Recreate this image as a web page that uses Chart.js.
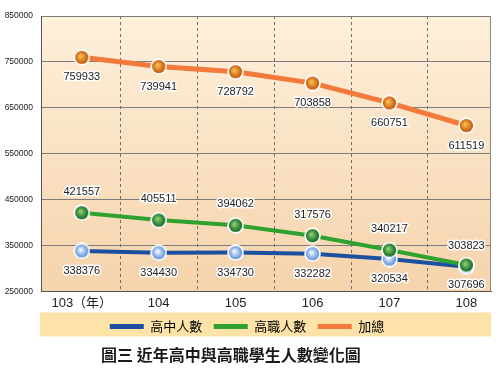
<!DOCTYPE html>
<html>
<head>
<meta charset="utf-8">
<script src="https://cdn.jsdelivr.net/npm/chart.js@4/dist/chart.umd.min.js"></script>
<style>
  body { margin: 0; background: #fff; }
  #wrap { position: relative; width: 500px; height: 368px; }
  #chart { position: absolute; left: 0; top: 0; }
  #caption {
    position: absolute; left: 101px; top: 344px;
    font: bold 16px "Noto Sans CJK TC", sans-serif; line-height: 20px; color: #1a1a1a;
    white-space: nowrap;
  }
</style>
</head>
<body>
<div id="wrap">
  <canvas id="chart" width="500" height="343"></canvas>
  <div id="caption">圖三 近年高中與高職學生人數變化圖</div>
</div>
<script>
// ===== data =====
const years = [103, 104, 105, 106, 107, 108];
const yearLabels = ['103（年）', '104', '105', '106', '107', '108'];
const yTicks = [250000, 350000, 450000, 550000, 650000, 750000, 850000];

const seniorHigh = [338376, 334430, 334730, 332282, 320534, 303823];   // 高中人數
const vocational = [421557, 405511, 394062, 371576, 340217, 307696];   // 高職人數 (106 point sits near 372k)
const vocationalText = ['421557', '405511', '394062', '317576', '340217', '307696'];
const total = [759933, 739941, 728792, 703858, 660751, 611519];        // 加總

const colors = {
  blue: '#1B4FA0',
  green: '#2FA12F',
  orange: '#F47A3C',
  band: '#FDE3A7',
  bgTop: '#FEF0DA',
  bgBottom: '#F5D3AC'
};

// shiny ball markers
function makeBall(light, dark) {
  const c = document.createElement('canvas');
  c.width = 17; c.height = 17;
  const g = c.getContext('2d');
  g.fillStyle = '#fff';
  g.beginPath(); g.arc(8.5, 8.5, 8.3, 0, Math.PI * 2); g.fill();
  const grad = g.createRadialGradient(7, 7, 0.5, 8.5, 8.5, 6.8);
  grad.addColorStop(0, light);
  grad.addColorStop(1, dark);
  g.fillStyle = grad;
  g.beginPath(); g.arc(8.5, 8.5, 6.6, 0, Math.PI * 2); g.fill();
  return c;
}

const toXY = (arr) => arr.map((v, i) => ({ x: years[i], y: v }));

// which labels go above the point (others go below)
const labelAbove = {
  0: [false, false, false, false, false, true],
  1: [true, true, true, true, true, false],
  2: [false, false, false, false, false, false]
};

const backdrop = {
  id: 'backdrop',
  beforeDraw(chart) {
    const { ctx, chartArea: a, legend } = chart;
    ctx.save();
    const grad = ctx.createLinearGradient(0, a.top, 0, a.bottom);
    grad.addColorStop(0, colors.bgTop);
    grad.addColorStop(1, colors.bgBottom);
    ctx.fillStyle = grad;
    ctx.fillRect(a.left, a.top, a.right - a.left, a.bottom - a.top);
    // legend band
    const pad = legend.options.labels.padding;
    const mid = legend.top + pad + 6.5;
    ctx.fillStyle = colors.band;
    ctx.fillRect(a.left - 1, mid - 14, a.right - a.left + 1, 24);
    ctx.restore();
  },
  beforeDatasetsDraw(chart) {
    const { ctx, chartArea: a } = chart;
    ctx.save();
    ctx.strokeStyle = '#8a8a8a';
    ctx.lineWidth = 1;
    ctx.beginPath();
    ctx.moveTo(a.right - 0.5, a.top);
    ctx.lineTo(a.right - 0.5, a.bottom);
    ctx.stroke();
    ctx.restore();
  }
};

const valueLabels = {
  id: 'valueLabels',
  afterDatasetsDraw(chart) {
    const { ctx } = chart;
    ctx.save();
    ctx.font = '11px "Liberation Sans", Arial, sans-serif';
    ctx.textAlign = 'center';
    ctx.textBaseline = 'middle';
    ctx.lineJoin = 'round';
    chart.data.datasets.forEach((ds, di) => {
      chart.getDatasetMeta(di).data.forEach((pt, i) => {
        const txt = ds.valueText ? ds.valueText[i] : String(ds.data[i].y);
        const up = labelAbove[di][i];
        const y = pt.y + (up ? -21 : 20);
        ctx.strokeStyle = '#fff';
        ctx.lineWidth = 3;
        ctx.strokeText(txt, pt.x, y);
        ctx.fillStyle = '#222';
        ctx.fillText(txt, pt.x, y);
      });
    });
    ctx.restore();
  }
};

const halfTicks = years.slice(0, -1).map(y => y + 0.5);

new Chart(document.getElementById('chart'), {
  type: 'line',
  data: {
    datasets: [
      {
        label: '高中人數',
        data: toXY(seniorHigh),
        borderColor: colors.blue,
        borderWidth: 4,
        pointStyle: makeBall('#F2F8FF', '#5A8ED8'),
        order: 2
      },
      {
        label: '高職人數',
        data: toXY(vocational),
        valueText: vocationalText,
        borderColor: colors.green,
        borderWidth: 4,
        pointStyle: makeBall('#8FD070', '#0A6623'),
        order: 1
      },
      {
        label: '加總',
        data: toXY(total),
        borderColor: colors.orange,
        borderWidth: 5,
        pointStyle: makeBall('#FBC04E', '#C2530A'),
        order: 0
      }
    ]
  },
  options: {
    responsive: false,
    animation: false,
    events: [],
    devicePixelRatio: 1,
    layout: { padding: { left: 0, right: 6, top: 16, bottom: 0 } },
    elements: { line: { tension: 0 } },
    plugins: {
      tooltip: { enabled: false },
      legend: {
        position: 'bottom',
        labels: {
          boxWidth: 34,
          boxHeight: 5,
          padding: 11.5,
          color: '#333',
          font: { family: '"Noto Sans CJK TC", sans-serif', size: 13 },
          generateLabels: () => [
            { text: '高中人數', fillStyle: colors.blue, strokeStyle: colors.blue, lineWidth: 0 },
            { text: '高職人數', fillStyle: colors.green, strokeStyle: colors.green, lineWidth: 0 },
            { text: '加總', fillStyle: colors.orange, strokeStyle: colors.orange, lineWidth: 0 }
          ]
        }
      }
    },
    scales: {
      x: {
        type: 'linear',
        min: 102.47,
        max: 108.32,
        afterBuildTicks: (scale) => {
          scale.ticks = years.concat(halfTicks).sort((a, b) => a - b).map(v => ({ value: v }));
        },
        afterFit: (scale) => { scale.height = 17; },
        ticks: {
          autoSkip: false,
          maxRotation: 0,
          minRotation: 0,
          padding: 4,
          color: '#222',
          font: { family: '"Liberation Sans", Arial, "Noto Sans CJK TC", sans-serif', size: 13 },
          callback: (v) => {
            const i = years.indexOf(v);
            return i >= 0 ? yearLabels[i] : '';
          }
        },
        grid: {
          drawTicks: false,
          color: (c) => (c.tick && Number.isInteger(c.tick.value)) ? 'rgba(0,0,0,0)' : '#6e6e6e',
          lineWidth: 1
        },
        border: { display: true, color: '#555', width: 1, dash: [3, 3] }
      },
      y: {
        min: 250000,
        max: 850000,
        afterBuildTicks: (scale) => { scale.ticks = yTicks.map(v => ({ value: v })); },
        afterFit: (scale) => { scale.width = 41; },
        ticks: {
          padding: 8,
          color: '#222',
          font: { family: '"Liberation Sans", Arial, sans-serif', size: 8.5 },
          callback: (v) => String(v)
        },
        grid: { drawTicks: false, color: '#7c7c7c', lineWidth: 1 },
        border: { display: true, color: '#555', width: 1 }
      }
    }
  },
  plugins: [backdrop, valueLabels]
});
</script>
</body>
</html>
